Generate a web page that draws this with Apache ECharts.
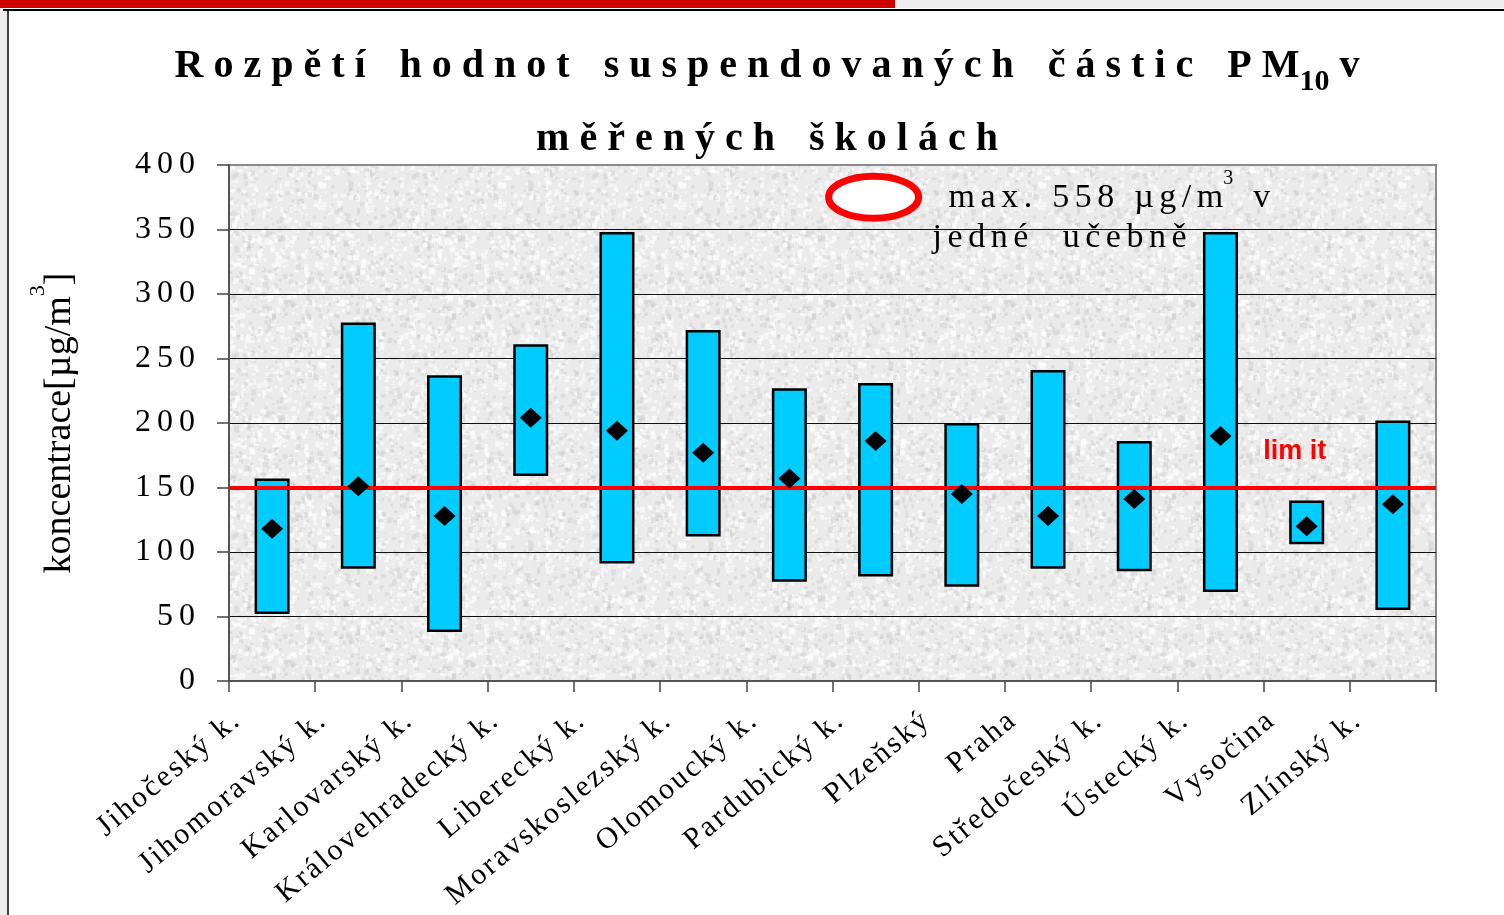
<!DOCTYPE html>
<html>
<head>
<meta charset="utf-8">
<title>PM10</title>
<script src="https://cdn.jsdelivr.net/npm/echarts@6/dist/echarts.min.js"></script>
<style>
  html, body { margin: 0; padding: 0; background: #fff; }
  #chart { width: 1504px; height: 915px; }
</style>
</head>
<body>
<div id="chart"></div>
<script>
  // data
  const regions = ['Jihočeský k.', 'Jihomoravský k.', 'Karlovarský k.', 'Královehradecký k.', 'Liberecký k.',
    'Moravskoslezský k.', 'Olomoucký k.', 'Pardubický k.', 'Plzeňský', 'Praha', 'Středočeský k.',
    'Ústecký k.', 'Vysočina', 'Zlínský k.']
  const minValues = [52, 87, 38, 159, 91, 112, 77, 81, 73, 87, 85, 69, 106, 55]
  const maxValues = [157, 278, 237, 261, 348, 272, 227, 231, 200, 241, 186, 348, 140, 202]
  const meanValues = [118, 151, 128, 204, 194, 177, 157, 186, 145, 128, 141, 190, 120, 137]
  const limitValue = 150

  const SERIF = "'Liberation Serif', 'Times New Roman', serif"
  const SANS = "'Liberation Sans', Arial, sans-serif"

  // letter spaced text: every char is its own rich token
  function spaced(text, key) {
    const chars = Array.from(text)
    return chars.map(function(c, i) {
      let k = key
      if (i === chars.length - 1) k = key + 'End'
      else if (c === ' ') k = key + 'Gap'
      return '{' + k + '|' + c + '}'
    }).join('')
  }

  function richSet(key, base, pad, gap) {
    const top = base.padTop || 0
    const style = Object.assign({}, base)
    delete style.padTop
    const r = {}
    r[key] = Object.assign({}, style, { padding: [top, pad, 0, 0] })
    r[key + 'Gap'] = Object.assign({}, style, { padding: [top, gap, 0, 0] })
    r[key + 'End'] = Object.assign({}, style, { padding: [top, 0, 0, 0] })
    return r
  }

  // grey grain of the plot area
  function makeGrain() {
    const c = document.createElement('canvas')
    c.width = 180
    c.height = 180
    const g = c.getContext('2d')
    g.fillStyle = '#ebebeb'
    g.fillRect(0, 0, 180, 180)
    let s = 12345
    const next = () => (s = (s * 16807) % 2147483647) / 2147483647
    for (let i = 0; i < 1500; i++) {
      const x = next() * 180
      const y = next() * 180
      const w = 1 + next() * 4
      g.fillStyle = next() < 0.6 ? 'rgba(255,255,255,0.6)' : 'rgba(195,195,195,0.35)'
      g.fillRect(x, y, w, w * (0.6 + next() * 0.8))
    }
    return c
  }

  const titleBase = { fontSize: 40, fontWeight: 'bold', fontFamily: SERIF, color: '#000', verticalAlign: 'top' }
  const titleRich = Object.assign(richSet('t', titleBase, 10, 14), {
    sub: { fontSize: 30, fontWeight: 'bold', fontFamily: SERIF, color: '#000', verticalAlign: 'top', padding: [20, 10, 0, 0] }
  })
  const xRich = richSet('x', { fontSize: 30, fontFamily: SERIF, color: '#000' }, 2.5, 2.5)
  const yRich = richSet('y', { fontSize: 32, fontFamily: SERIF, color: '#000' }, 6, 6)
  const noteBase = { fontSize: 34, fontFamily: SERIF, color: '#000', verticalAlign: 'top', padTop: 12 }
  const noteRich = Object.assign(richSet('a', noteBase, 5.5, 6), {
    aSup: { fontSize: 20, fontFamily: SERIF, color: '#000', verticalAlign: 'top', padding: [0, 20, 0, 0] }
  })

  const chart = echarts.init(document.getElementById('chart'))

  chart.setOption({
    animation: false,
    backgroundColor: '#fff',
    title: [{
      text: spaced('Rozpětí hodnot suspendovaných částic PM', 't') + '{sub|10}{tEnd|v}',
      left: 767,
      textAlign: 'center',
      top: 47,
      padding: 0,
      textStyle: { rich: titleRich }
    }, {
      text: spaced('měřených školách', 't'),
      left: 767,
      textAlign: 'center',
      top: 120,
      padding: 0,
      textStyle: { rich: titleRich }
    }],
    grid: {
      left: 229,
      right: 68,
      top: 165,
      bottom: 234,
      containLabel: false,
      outerBoundsMode: 'none',
      show: true,
      backgroundColor: { image: makeGrain(), repeat: 'repeat' },
      borderColor: '#8a8a8a',
      borderWidth: 2
    },
    xAxis: {
      type: 'category',
      data: regions,
      axisLine: { lineStyle: { color: '#555', width: 2 } },
      axisTick: { show: true, length: 11, lineStyle: { color: '#444', width: 1.5 } },
      axisLabel: {
        interval: 0,
        rotate: 40,
        margin: 6,
        padding: [0, 48, 0, 0],
        formatter: v => spaced(v, 'x'),
        rich: xRich
      }
    },
    yAxis: {
      type: 'value',
      min: 0,
      max: 400,
      interval: 50,
      name: '{n|koncentrace[µg/m}{ns|3}{n|]}',
      nameLocation: 'middle',
      nameRotate: 90,
      nameGap: 150,
      nameTextStyle: {
        rich: {
          n: { fontSize: 38, fontFamily: SERIF, color: '#000', verticalAlign: 'top', padding: [14, 0, 0, 0] },
          ns: { fontSize: 22, fontFamily: SERIF, color: '#000', verticalAlign: 'top', padding: [0, 0, 0, 0] }
        }
      },
      axisLine: { show: true, lineStyle: { color: '#555', width: 2 } },
      axisTick: { show: true, length: 12, lineStyle: { color: '#444', width: 1.5 } },
      axisLabel: {
        margin: 34,
        formatter: v => spaced(String(v), 'y'),
        rich: yRich
      },
      splitLine: { show: true, showMaxLine: false, lineStyle: { color: '#111', width: 1 } }
    },
    series: [{
      name: 'min',
      type: 'bar',
      stack: 'range',
      silent: true,
      barWidth: 35,
      itemStyle: { color: 'transparent' },
      data: minValues
    }, {
      name: 'range',
      type: 'bar',
      stack: 'range',
      silent: true,
      barWidth: 35,
      itemStyle: { color: '#00ccff', borderColor: '#000', borderWidth: 2.5 },
      data: maxValues.map((v, i) => v - minValues[i])
    }, {
      name: 'mean',
      type: 'scatter',
      silent: true,
      symbol: 'diamond',
      symbolSize: [22, 20],
      itemStyle: { color: '#000', opacity: 1 },
      z: 5,
      data: meanValues,
      markLine: {
        silent: true,
        symbol: 'none',
        label: { show: false },
        lineStyle: { color: '#ff0000', width: 4, type: 'solid', opacity: 1 },
        data: [{ yAxis: limitValue }]
      }
    }]
  })

  const toPx = (cat, val) => chart.convertToPixel({ gridIndex: 0 }, [cat, val])
  const ell = toPx('Pardubický k.', 375)
  const note1 = toPx('Pardubický k.', 0)
  const lim = toPx('Vysočina', 178)
  const noteTop1 = chart.convertToPixel({ yAxisIndex: 0 }, 397)
  const noteTop2 = chart.convertToPixel({ yAxisIndex: 0 }, 366)

  chart.setOption({
    graphic: [
      // slide frame
      { type: 'rect', shape: { x: 0, y: 0, width: 895, height: 8 }, style: { fill: '#cc0000' }, silent: true },
      { type: 'rect', shape: { x: 895, y: 0, width: 609, height: 8 }, style: { fill: '#eeeeee' }, silent: true },
      { type: 'rect', shape: { x: 0, y: 8, width: 7, height: 907 }, style: { fill: '#ececec' }, silent: true },
      { type: 'line', shape: { x1: 3, y1: 10, x2: 1504, y2: 10 }, style: { stroke: '#000', lineWidth: 2 }, silent: true },
      { type: 'line', shape: { x1: 8, y1: 10, x2: 8, y2: 915 }, style: { stroke: '#000', lineWidth: 1.5 }, silent: true },
      // note about the maximum
      {
        type: 'ellipse', z: 20, silent: true,
        shape: { cx: ell[0] - 2, cy: ell[1], rx: 45, ry: 21 },
        style: { fill: '#fff', stroke: '#ff0000', lineWidth: 7 }
      },
      {
        type: 'text', z: 20, silent: true, x: note1[0] + 73, y: noteTop1,
        style: {
          text: spaced('max. 558 µg/m', 'a') + '{aSup|3}{aEnd|v}',
          rich: noteRich,
          verticalAlign: 'top'
        }
      },
      {
        type: 'text', z: 20, silent: true, x: note1[0] + 57, y: noteTop2,
        style: {
          text: spaced('jedné  učebně', 'a'),
          rich: noteRich,
          verticalAlign: 'top'
        }
      },
      {
        type: 'text', z: 20, silent: true, x: lim[0] - 12, y: lim[1],
        style: {
          text: 'lim it',
          font: 'bold 27px ' + SANS,
          fill: '#ff0000',
          align: 'center',
          verticalAlign: 'middle'
        }
      }
    ]
  })
</script>
</body>
</html>
